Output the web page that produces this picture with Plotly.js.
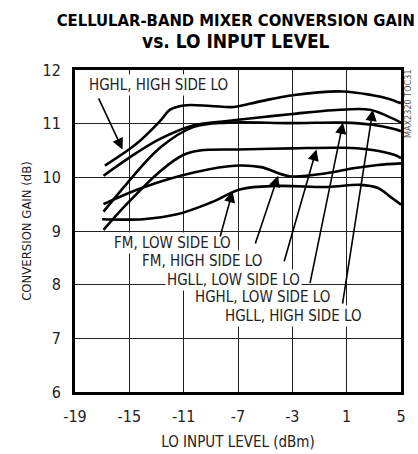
<!DOCTYPE html>
<html>
<head>
<meta charset="utf-8">
<script src="https://cdn.plot.ly/plotly-3.0.1.min.js"></script>
<style>html,body{margin:0;padding:0;background:#fff;}#chart{width:418px;height:454px;}</style>
</head>
<body>
<div id="chart"></div>
<script>
// ---- data ----
const hghlHighX = [-16.8, -14.5, -12.7, -12.0, -11.0, -9.0, -7.3, -5.3, -3.0, 0.7, 2.9, 4.0, 5.0];
const hghlHighY = [10.22, 10.62, 11.06, 11.26, 11.34, 11.33, 11.31, 11.42, 11.53, 11.60, 11.53, 11.47, 11.38];

const hgllHighX = [-16.9, -14.5, -12.7, -10.25, -7.8, -5.3, -3.0, 0.0, 2.7, 4.0, 5.0];
const hgllHighY = [10.03, 10.45, 10.72, 10.97, 11.05, 11.12, 11.18, 11.25, 11.26, 11.14, 11.02];

const hghlLowX = [-16.9, -15.2, -12.7, -10.25, -7.8, -3.0, 0.7, 2.9, 4.5, 5.0];
const hghlLowY = [9.36, 9.88, 10.56, 10.94, 11.02, 11.01, 11.02, 10.98, 10.90, 10.86];

const hgllLowX = [-16.9, -15.2, -12.7, -11.0, -9.8, -7.0, -3.0, 0.7, 2.9, 4.5, 5.0];
const hgllLowY = [9.02, 9.50, 10.12, 10.42, 10.50, 10.52, 10.54, 10.55, 10.51, 10.42, 10.36];

const fmHighX = [-16.9, -14.0, -10.25, -7.0, -5.3, -3.2, -0.4, 1.5, 3.3, 5.0];
const fmHighY = [9.50, 9.81, 10.09, 10.22, 10.19, 10.02, 10.08, 10.17, 10.23, 10.26];

const fmLowX = [-17.0, -14.0, -11.5, -9.0, -6.8, -4.1, -0.4, 2.0, 3.3, 4.2, 5.0];
const fmLowY = [9.22, 9.22, 9.31, 9.53, 9.78, 9.84, 9.82, 9.86, 9.80, 9.64, 9.49];

const xTickVals = [-19, -15, -11, -7, -3, 1, 5];
const xTickText = ['-19', '-15', '-11', '-7', '-3', '1', '5'];
const yTickVals = [6, 7, 8, 9, 10, 11, 12];

// labels: text, label anchor (x,y), arrow tail (x,y), arrow head (x,y)
const labelText  = ['HGHL, HIGH SIDE LO', 'FM, LOW SIDE LO', 'FM, HIGH SIDE LO', 'HGLL, LOW SIDE LO', 'HGHL, LOW SIDE LO', 'HGLL, HIGH SIDE LO'];
const labelX     = [-18.12, -16.28, -14.22, -12.38, -10.32, -8.12];
const labelY     = [11.72, 8.78, 8.44, 8.09, 7.77, 7.42];
const tailX      = [-17.31, -8.34, -5.76, -3.63, -1.72, 0.68];
const tailY      = [11.50, 8.87, 8.74, 8.41, 8.00, 7.62];
const headX      = [-15.5, -7.4, -4.05, -1.23, 0.73, 2.93];
const headY      = [10.52, 9.74, 10.03, 10.52, 11.02, 11.26];

// ---- build ----
const FONT = '"DejaVu Sans Condensed", "Liberation Sans", sans-serif';
const series = [[hghlHighX, hghlHighY], [hgllHighX, hgllHighY], [hghlLowX, hghlLowY],
                [hgllLowX, hgllLowY], [fmHighX, fmHighY], [fmLowX, fmLowY]];
const traces = series.map(s => ({
  x: s[0], y: s[1], type: 'scatter', mode: 'lines',
  line: {color: '#000', width: 2.6, shape: 'spline', smoothing: 1},
  hoverinfo: 'skip', showlegend: false
}));

const annotations = [];
labelText.forEach((t, i) => {
  annotations.push({
    x: labelX[i], y: labelY[i], xref: 'x', yref: 'y', text: t,
    xanchor: 'left', yanchor: 'middle', showarrow: false,
    bgcolor: '#fff', borderpad: 1,
    font: {family: FONT, size: 15, color: '#222'}
  });
});
labelText.forEach((t, i) => {
  annotations.push({
    x: headX[i], y: headY[i], xref: 'x', yref: 'y', text: '',
    ax: tailX[i], ay: tailY[i], axref: 'x', ayref: 'y',
    showarrow: true, arrowhead: 2, arrowsize: 1.4, arrowwidth: 1.6,
    arrowcolor: '#000', standoff: 0
  });
});
annotations.push({
  x: 1.022, y: 0.895, xref: 'paper', yref: 'paper', text: 'MAX2320 TOC31',
  textangle: -90, showarrow: false, xanchor: 'center', yanchor: 'middle',
  font: {family: FONT, size: 9, color: '#555'}
});

const layout = {
  width: 418, height: 454,
  margin: {l: 75, r: 17, t: 70, b: 62},
  paper_bgcolor: '#fff', plot_bgcolor: '#fff',
  title: {
    text: '<b>CELLULAR-BAND MIXER CONVERSION GAIN<br><span style="font-size:19px">vs. LO INPUT LEVEL</span></b>',
    x: 0.564, xanchor: 'center', y: 0.942, yanchor: 'top',
    font: {family: FONT, size: 16.5, color: '#000'}
  },
  xaxis: {
    range: [-19, 5], tickvals: xTickVals, ticktext: xTickText,
    showgrid: true, gridcolor: '#222', gridwidth: 1,
    showline: true, linecolor: '#000', linewidth: 3, mirror: true,
    zeroline: false, ticks: '', ticklabelstandoff: 8,
    tickfont: {family: FONT, size: 16, color: '#222'},
    title: {text: 'LO INPUT LEVEL (dBm)', standoff: 12, font: {family: FONT, size: 15, color: '#222'}}
  },
  yaxis: {
    range: [6, 12], tickvals: yTickVals,
    showgrid: true, gridcolor: '#222', gridwidth: 1,
    showline: true, linecolor: '#000', linewidth: 3, mirror: true,
    zeroline: false, ticks: '', ticklabelstandoff: 8,
    tickfont: {family: FONT, size: 16, color: '#222'},
    title: {text: 'CONVERSION GAIN (dB)', standoff: 8, font: {family: FONT, size: 13, color: '#222'}}
  },
  annotations: annotations
};

Plotly.newPlot('chart', traces, layout, {displayModeBar: false, staticPlot: true});
</script>
</body>
</html>
